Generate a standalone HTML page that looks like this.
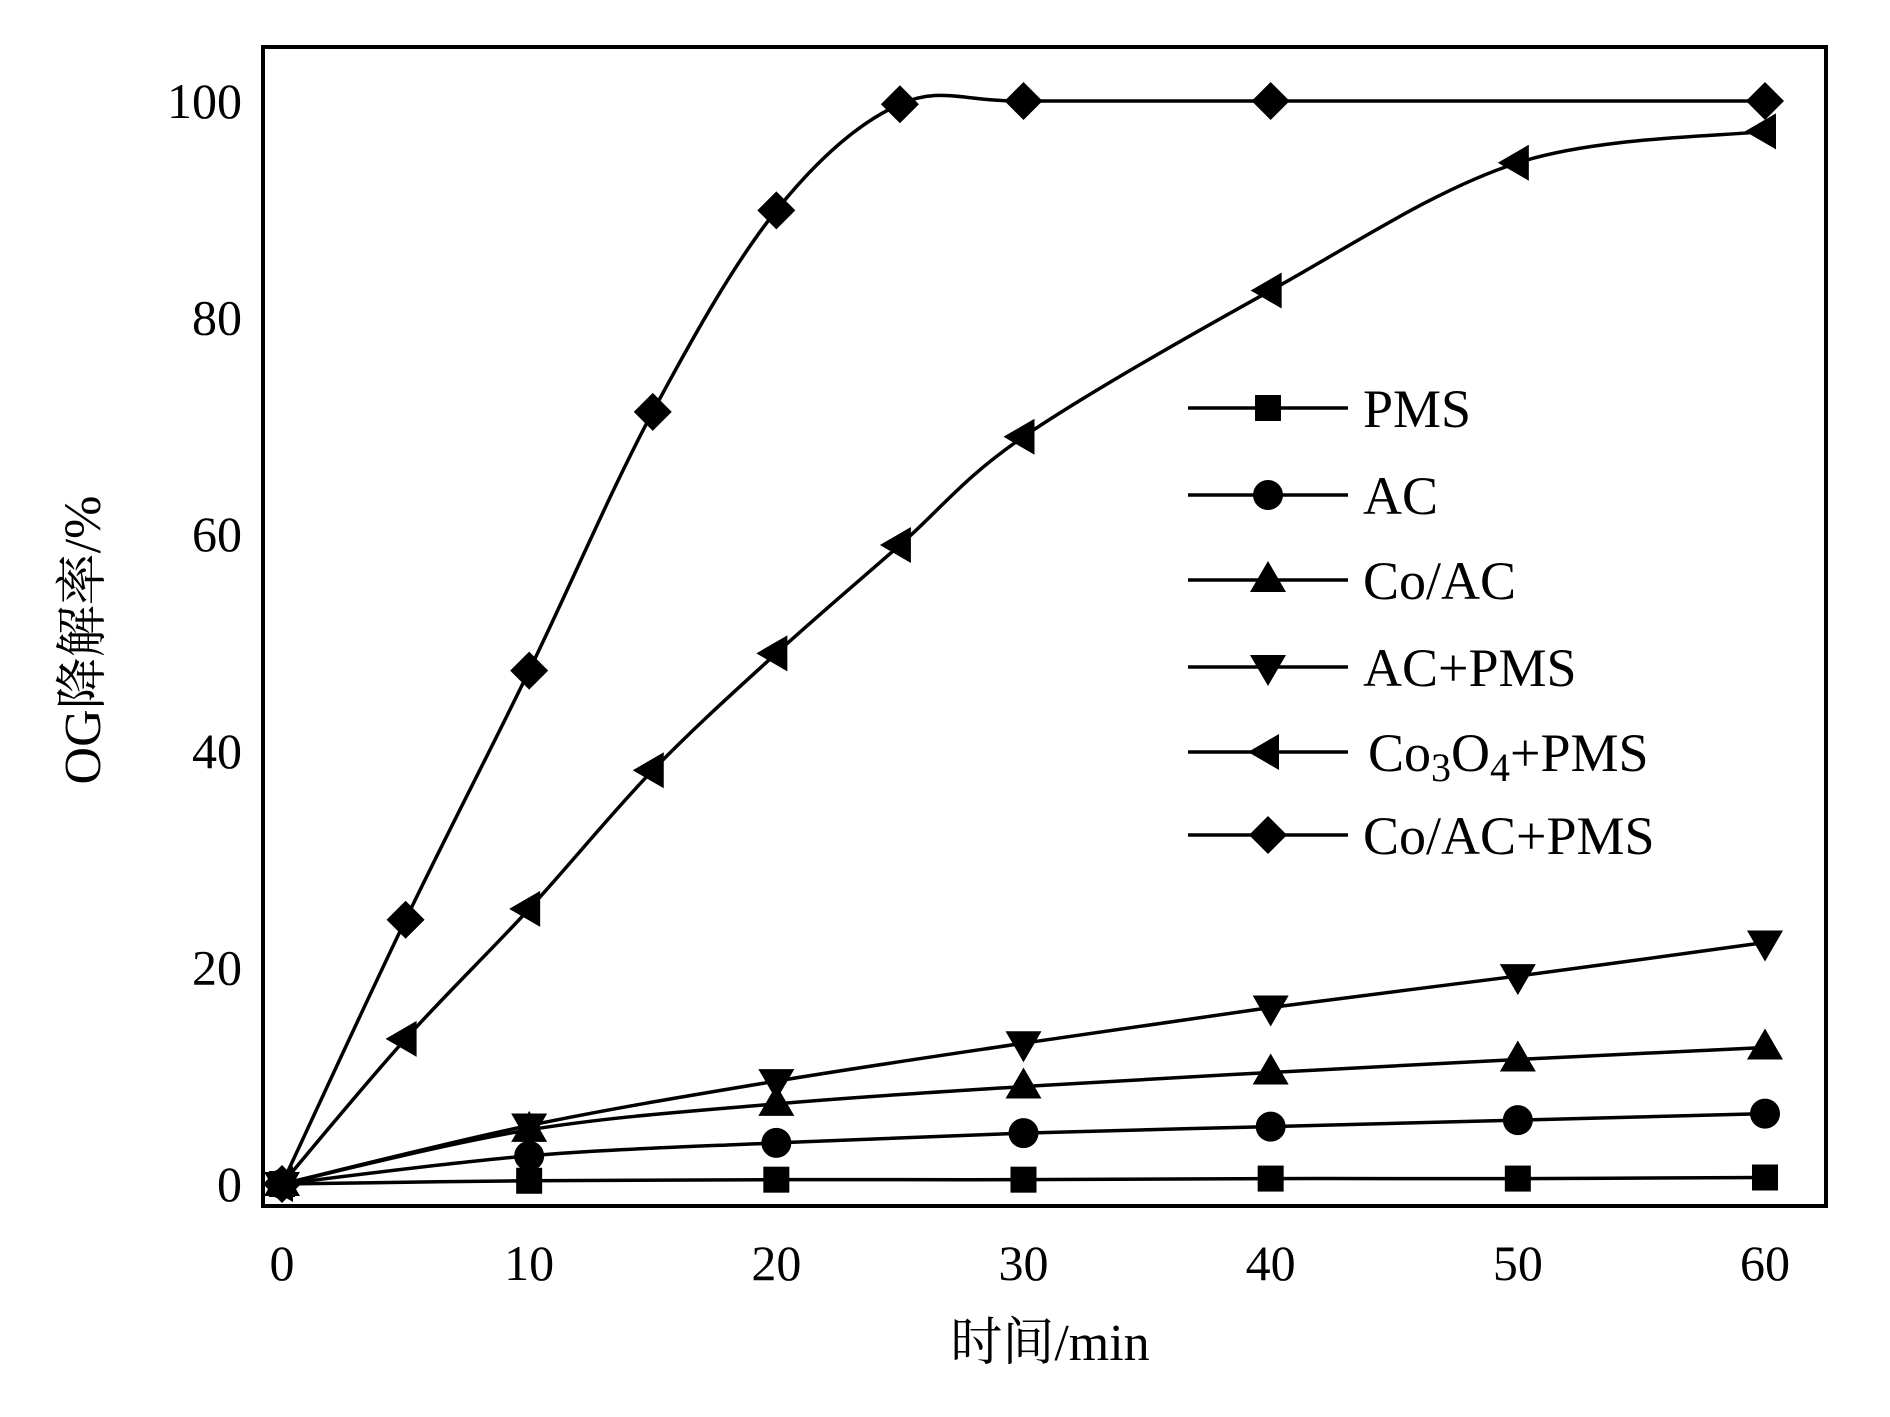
<!DOCTYPE html>
<html><head><meta charset="utf-8"><style>
html,body{margin:0;padding:0;background:#fff;}
svg{display:block;}
text{font-family:"Liberation Serif","Noto Serif CJK SC",serif;fill:#000;}
</style></head><body>
<svg id="chart" width="1890" height="1417" viewBox="0 0 1890 1417" xmlns="http://www.w3.org/2000/svg">
<rect x="263" y="47" width="1563" height="1159" fill="none" stroke="#000" stroke-width="4"/>
<g id="ticks"></g>
<g id="series"></g>
<g id="legend"></g>
<text x="1050" y="1360" font-size="52" text-anchor="middle">时间/min</text>
<text transform="translate(100,640) rotate(-90)" font-size="52" text-anchor="middle">OG降解率/%</text>
</svg>
<script>
const xTicks=[0,10,20,30,40,50,60];
const yTicks=[0,20,40,60,80,100];
const seriesNames=["PMS","AC","Co/AC","AC+PMS","Co3O4+PMS","Co/AC+PMS"];
const seriesMarkers=["square","circle","up","down","left","diamond"];
const timesShort=[0,10,20,30,40,50,60];
const timesCo3O4=[0,5,10,15,20,25,30,40,50,60];
const timesCoACPMS=[0,5,10,15,20,25,30,40,60];
const valPMS=[0,0.3,0.4,0.4,0.5,0.5,0.6];
const valAC=[0,2.6,3.8,4.7,5.3,5.9,6.5];
const valCoAC=[0,5,7.4,9,10.3,11.5,12.6];
const valACPMS=[0,5.4,9.5,13,16.3,19.2,22.3];
const valCo3O4=[0,13.4,25.4,38.2,49,59,69,82.5,94.3,97.2];
const valCoACPMS=[0,24.4,47.4,71.3,89.9,99.7,100,100,100];

const NS="http://www.w3.org/2000/svg";
const X0=282,X1=1765,Y0=1184,Y1=101;
const xs=v=>X0+(X1-X0)*v/60;
const ys=v=>Y0+(Y1-Y0)*v/100;
function mk(tag,attrs,parent){const e=document.createElementNS(NS,tag);for(const k in attrs)e.setAttribute(k,attrs[k]);parent.appendChild(e);return e;}
const tg=document.getElementById('ticks');
xTicks.forEach(t=>{const e=mk('text',{x:xs(t),y:1280,'font-size':50,'text-anchor':'middle'},tg);e.textContent=t;

});
yTicks.forEach(t=>{const e=mk('text',{x:242,y:ys(t)+17,'font-size':50,'text-anchor':'end'},tg);e.textContent=t;

});

function marker(type,cx,cy,parent){
  let e;
  if(type==='square')e=mk('rect',{x:cx-13,y:cy-13,width:26,height:26},parent);
  else if(type==='circle')e=mk('circle',{cx:cx,cy:cy,r:15},parent);
  else if(type==='up')e=mk('polygon',{points:`${cx},${cy-19} ${cx-18},${cy+12} ${cx+18},${cy+12}`},parent);
  else if(type==='down')e=mk('polygon',{points:`${cx},${cy+19} ${cx-18},${cy-12} ${cx+18},${cy-12}`},parent);
  else if(type==='left')e=mk('polygon',{points:`${cx-20},${cy} ${cx+11},${cy-18} ${cx+11},${cy+18}`},parent);
  else e=mk('polygon',{points:`${cx},${cy-19} ${cx+19},${cy} ${cx},${cy+19} ${cx-19},${cy}`},parent);
  e.setAttribute('fill','#000');
  return e;
}
function smoothPath(pts){
  let d=`M${pts[0][0]},${pts[0][1]}`;
  for(let i=0;i<pts.length-1;i++){
    const p0=pts[Math.max(0,i-1)],p1=pts[i],p2=pts[i+1],p3=pts[Math.min(pts.length-1,i+2)];
    const c1=[p1[0]+(p2[0]-p0[0])/6,p1[1]+(p2[1]-p0[1])/6];
    const c2=[p2[0]-(p3[0]-p1[0])/6,p2[1]-(p3[1]-p1[1])/6];
    d+=` C${c1[0]},${c1[1]} ${c2[0]},${c2[1]} ${p2[0]},${p2[1]}`;
  }
  return d;
}
const sg=document.getElementById('series');
const allX=[timesShort,timesShort,timesShort,timesShort,timesCo3O4,timesCoACPMS];
const allY=[valPMS,valAC,valCoAC,valACPMS,valCo3O4,valCoACPMS];
allY.forEach((vals,si)=>{
  const g=mk('g',{},sg);
  
  
  const pts=vals.map((v,i)=>[xs(allX[si][i]),ys(v)]);
  const p=mk('path',{d:smoothPath(pts),fill:'none',stroke:'#000','stroke-width':3.5},g);
  
  
  pts.forEach(pt=>{const m=marker(seriesMarkers[si],pt[0],pt[1],g);
  
  });
});
const lg=document.getElementById('legend');


const rowY=[408,495,580,667,752,835];
const labels=['PMS','AC','Co/AC','AC+PMS',null,'Co/AC+PMS'];
seriesNames.forEach((n,i)=>{
  const g=mk('g',{},lg);
  
  
  mk('line',{x1:1188,x2:1348,y1:rowY[i],y2:rowY[i],stroke:'#000','stroke-width':3.5},g);
  marker(seriesMarkers[i],1268,rowY[i],g);
  const t=mk('text',{x:i===4?1368:1363,y:rowY[i]+19,'font-size':54},g);
  if(labels[i])t.textContent=labels[i];
  else t.innerHTML='Co<tspan font-size="40" dy="10">3</tspan><tspan dy="-10">O</tspan><tspan font-size="40" dy="10">4</tspan><tspan dy="-10">+PMS</tspan>';
});
</script>
</body></html>
